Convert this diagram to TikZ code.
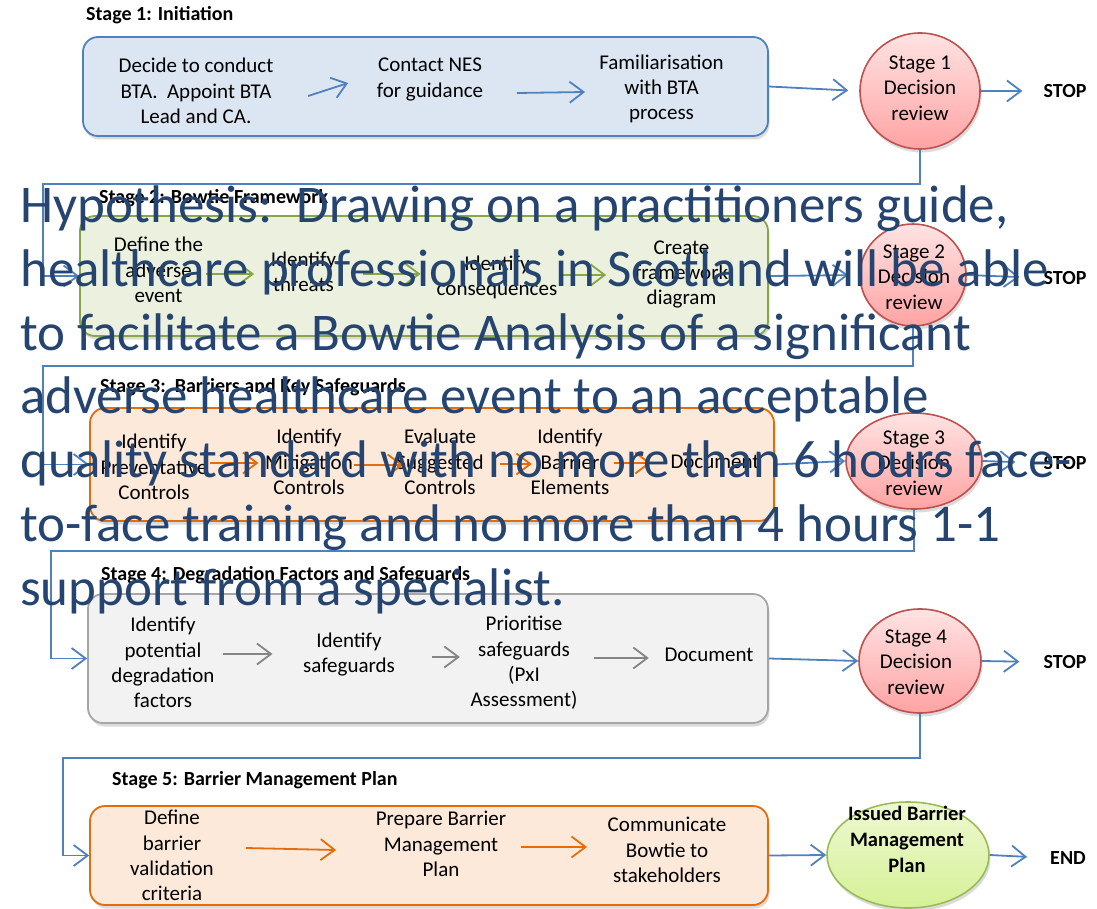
\documentclass[tikz,border=0pt]{standalone}
\usepackage{fontspec}
\setmainfont{Carlito}
\usetikzlibrary{arrows.meta,shapes.geometric,shadows}

\definecolor{blueline}{HTML}{4F81BD}
\definecolor{bluefill}{HTML}{DCE6F2}
\definecolor{greenline}{HTML}{86A64A}
\definecolor{greenfill}{HTML}{EBF1DE}
\definecolor{orangeline}{HTML}{E46C0A}
\definecolor{orangefill}{HTML}{FDE9D9}
\definecolor{grayline}{HTML}{A6A6A6}
\definecolor{grayarrow}{HTML}{858585}
\definecolor{grayfill}{HTML}{F2F2F2}
\definecolor{redline}{HTML}{C0504D}
\definecolor{pinktop}{HTML}{FFE3E3}
\definecolor{pinkbottom}{HTML}{FFA3A3}
\definecolor{limeline}{HTML}{9BBB59}
\definecolor{limetop}{HTML}{EEF8D2}
\definecolor{limebottom}{HTML}{D5F196}
\definecolor{hyptext}{HTML}{254570}

\tikzset{
  softshadow/.style={drop shadow={shadow xshift=1.5pt, shadow yshift=-3.5pt, opacity=0.28}},
  stagebox/.style={rounded corners=15pt, line width=1.8pt, inner sep=0pt, softshadow},
  decision/.style={ellipse, draw=redline, line width=1.6pt, top color=pinktop,
    bottom color=pinkbottom, inner sep=0pt, softshadow},
  steptext/.style={align=center, inner sep=0pt, font=\fontsize{21}{25.3}\selectfont},
  stagelabel/.style={anchor=west, inner sep=0pt, font=\bfseries\fontsize{20}{24}\selectfont},
  outcome/.style={inner sep=0pt, font=\bfseries\fontsize{20}{24}\selectfont},
  flow/.style={line width=1.8pt, -{Straight Barb[length=14pt,width=21pt]}},
  link/.style={flow, draw=blueline},
}

\begin{document}
\begin{tikzpicture}[x=1pt, y=-1pt]
\useasboundingbox (0,0) rectangle (1097,909);
\fill[white] (0,0) rectangle (1097,909);

% ---------- stage frames ----------
\node[stagebox, draw=blueline, fill=bluefill, minimum width=685pt, minimum height=99pt] (b1) at (425.5,86.5) {};
\node[stagebox, draw=greenline, fill=greenfill, minimum width=688pt, minimum height=120pt] (b2) at (424,276) {};
\node[stagebox, draw=orangeline, fill=orangefill, minimum width=684pt, minimum height=113pt] (b3) at (432,464.5) {};
\node[stagebox, draw=grayline, fill=grayfill, minimum width=680pt, minimum height=129pt] (b4) at (428,658.5) {};
\node[stagebox, draw=orangeline, fill=orangefill, minimum width=678pt, minimum height=99pt] (b5) at (429,855.5) {};

% ---------- decision points ----------
\node[decision, minimum width=120pt, minimum height=116pt] (c1) at (920,91) {};
\node[decision, minimum width=106pt, minimum height=102pt] (c2) at (913,275) {};
\node[decision, minimum width=136pt, minimum height=96pt] (c3) at (914,461) {};
\node[decision, minimum width=122pt, minimum height=104pt] (c4) at (920,661) {};
\node[ellipse, draw=limeline, line width=1.6pt, top color=limetop, bottom color=limebottom,
      inner sep=0pt, softshadow, minimum width=162pt, minimum height=106pt] (c5) at (908,855) {};

\node[steptext] (c1t) at (920,88) {Stage 1\\Decision\\review};
\node[steptext] (c2t) at (914,277) {Stage 2\\Decision\\review};
\node[steptext] (c3t) at (914,463) {Stage 3\\Decision\\review};
\node[steptext] (c4t) at (916,662) {Stage 4\\Decision\\review};
\node[steptext, font=\bfseries\fontsize{20.5}{26}\selectfont] (c5t) at (907,839) {Issued Barrier\\Management\\Plan};

% ---------- stage headings ----------
\node[stagelabel] (l1) at (86,15) {Stage 1: Initiation};
\node[stagelabel] (l2) at (99,198) {Stage 2: Bowtie Framework};
\node[stagelabel] (l3) at (100,387) {Stage 3:\ \ Barriers and Key Safeguards};
\node[stagelabel] (l4) at (101,575) {Stage 4: Degradation Factors and Safeguards};
\node[stagelabel] (l5) at (112,780) {Stage 5: Barrier Management Plan};

% ---------- outcomes ----------
\node[outcome] (stop1) at (1065,91) {STOP};
\node[outcome] (stop2) at (1065,278) {STOP};
\node[outcome] (stop3) at (1065,463) {STOP};
\node[outcome] (stop4) at (1065,662) {STOP};
\node[outcome] (end) at (1068,858) {END};

% ---------- stage 1 steps ----------
\node[steptext] (s11) at (196,91) {Decide to conduct\\BTA.\ \ Appoint BTA\\Lead and CA.};
\node[steptext] (s12) at (430,79.5) {Contact NES\\for guidance};
\node[steptext] (s13) at (661.5,89) {Familiarisation\\with BTA\\process};
\draw[flow, draw=blueline] ([xshift=34.5pt,yshift=-5pt]s11.east) -- ([xshift=-28.5pt,yshift=-3.5pt]s12.west);
\draw[flow, draw=blueline] ([xshift=33.5pt,yshift=-13.5pt]s12.east) -- ([xshift=-14pt,yshift=-3pt]s13.west);

% ---------- stage 2 steps ----------
\node[steptext] (s21) at (158.5,270) {Define the\\adverse\\event};
\node[steptext] (s22) at (303.5,271.5) {Identify\\threats};
\node[steptext] (s23) at (497,277.5) {Identify\\consequences};
\node[steptext] (s24) at (681.5,274.5) {Create\\framework\\diagram};
\draw[flow, draw=greenline] ([xshift=3pt,yshift=-4pt]s21.east) -- ([xshift=-16.5pt,yshift=-2.5pt]s22.west);
\draw[flow, draw=greenline] ([xshift=26.5pt,yshift=-2.5pt]s22.east) -- ([xshift=-16pt,yshift=3.5pt]s23.west);
\draw[flow, draw=greenline] ([xshift=5pt,yshift=2.5pt]s23.east) -- ([xshift=-28.5pt,yshift=-0.5pt]s24.west);

% ---------- stage 3 steps ----------
\node[steptext] (s31) at (154,467) {Identify\\Preventative\\Controls};
\node[steptext] (s32) at (309,462) {Identify\\Mitigation\\Controls};
\node[steptext] (s33) at (440,462) {Evaluate\\Suggested\\Controls};
\node[steptext] (s34) at (570,462) {Identify\\Barrier\\Elements};
\node[steptext] (s35) at (715,462) {Document};
\draw[flow, draw=orangeline] ([xshift=2pt,yshift=4pt]s31.east) -- ([xshift=-6.5pt,yshift=-1pt]s32.west);
\draw[flow, draw=orangeline] ([xshift=1pt,yshift=-3pt]s32.east) -- ([xshift=7pt,yshift=-3pt]s33.west);
\draw[flow, draw=orangeline] ([xshift=16pt,yshift=-2pt]s33.east) -- ([xshift=1.5pt,yshift=-2pt]s34.west);
\draw[flow, draw=orangeline] ([xshift=4.5pt,yshift=-1pt]s34.east) -- ([xshift=-19.5pt,yshift=-1pt]s35.west);

% ---------- stage 4 steps ----------
\node[steptext] (s41) at (163,662.5) {Identify\\potential\\degradation\\factors};
\node[steptext] (s42) at (349,654.5) {Identify\\safeguards};
\node[steptext] (s43) at (524,663) {Prioritise\\safeguards\\(PxI\\Assessment)};
\node[steptext] (s44) at (709,655) {Document};
\draw[flow, draw=grayarrow] ([xshift=8pt,yshift=8.5pt]s41.east) -- ([xshift=-30.5pt,yshift=0.5pt]s42.west);
\draw[flow, draw=grayarrow] ([xshift=36.5pt,yshift=-2.5pt]s42.east) -- ([xshift=-10.5pt,yshift=6pt]s43.west);
\draw[flow, draw=grayarrow] ([xshift=16.5pt,yshift=5pt]s43.east) -- ([xshift=-15.5pt,yshift=-3pt]s44.west);

% ---------- stage 5 steps ----------
\node[steptext] (s51) at (172,855.5) {Define\\barrier\\validation\\criteria};
\node[steptext] (s52) at (441,844) {Prepare Barrier\\Management\\Plan};
\node[steptext] (s53) at (667,850) {Communicate\\Bowtie to\\stakeholders};
\draw[flow, draw=orangeline] ([xshift=32pt,yshift=7.5pt]s51.east) -- ([xshift=-39.5pt,yshift=-6pt]s52.west);
\draw[flow, draw=orangeline] ([xshift=14.5pt,yshift=-3pt]s52.east) -- ([xshift=-20.5pt,yshift=3pt]s53.west);

% ---------- frame to decision ----------
\draw[link, shorten >=11pt] (b1.east) -- (c1.west);
\draw[link, shorten >=11pt] (b2.east) -- (c2.west);
\draw[link] (b3.east) -- (c3.west);
\draw[link] (b4.east) -- (c4.west);
\draw[link] (b5.east) -- (c5.west);

% ---------- decision to stop ----------
\draw[link, shorten >=21pt] (c1.east) -- (stop1.west);
\draw[link, shorten >=24pt] (c2.east) -- (stop2.west);
\draw[link, shorten >=28pt] (c3.east) -- (stop3.west);
\draw[link, shorten >=24pt] (c4.east) -- (stop4.west);
\draw[link, shorten >=23pt] (c5.east) -- (end.west);

% ---------- decision to next stage ----------
\coordinate (r1) at (43,184);
\coordinate (r2) at (43,366);
\coordinate (r3) at (51,551);
\coordinate (r4) at (63,758);
\draw[link] (c1.south) |- (r1) |- (b2.west);
\draw[link] (c2.south) |- (r2) |- (b3.west);
\draw[link] (c3.south) |- (r3) |- (b4.west);
\draw[link] (c4.south) |- (r4) |- (b5.west);

% ---------- hypothesis statement (anchored on its last baseline) ----------
\node[anchor=base west, align=left, inner sep=0pt, text=hyptext,
      font=\fontsize{53}{63.7}\selectfont] (hyp) at (20,605)
  {Hypothesis:\ \ Drawing on a practitioners guide,\\
   healthcare professionals in Scotland will be able\\
   to facilitate a Bowtie Analysis of a significant\\
   adverse healthcare event to an acceptable\\
   quality standard with no more than 6 hours face-\\
   to-face training and no more than 4 hours 1-1\\
   support from a specialist.};
\end{tikzpicture}
\end{document}
